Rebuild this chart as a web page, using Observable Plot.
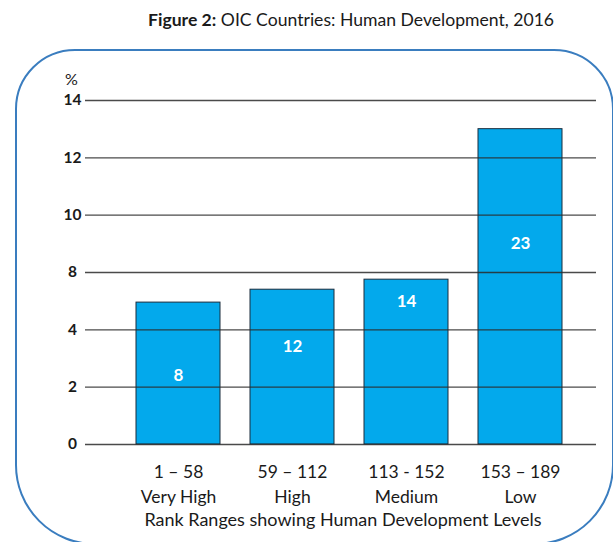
<!DOCTYPE html>
<html><head><meta charset="utf-8">
<script src="https://cdn.jsdelivr.net/npm/d3@7"></script>
<script src="https://cdn.jsdelivr.net/npm/@observablehq/plot@0.6"></script>
<style>
html,body{margin:0;padding:0;background:#fff;}
#wrap{position:relative;width:613px;height:542px;overflow:hidden;font-family:Lato,sans-serif;}
#title{position:absolute;top:9px;left:148px;white-space:nowrap;font-size:17.6px;color:#1a1a1a;}
#frame{position:absolute;left:15px;top:49px;width:599px;height:496px;border:2px solid #3a7dbf;border-radius:60px 60px 80px 80px;box-sizing:border-box;}
#chart{position:absolute;left:0;top:0;}
</style></head><body>
<div id="wrap"><div id="frame"></div><div id="title"><b>Figure 2:</b> OIC Countries: Human Development, 2016</div><div id="chart"></div></div>
<script>
const ranks = ["1 – 58", "59 – 112", "113 - 152", "153 – 189"];
const levels = ["Very High", "High", "Medium", "Low"];
const shares = [5.9, 6.8, 7.5, 13.0];
const counts = [8, 12, 14, 23];
const countLabelAt = [2.4, 3.4, 6.0, 9.0];
const yTicks = [0, 2, 4, 8, 10, 12, 14];

const data = levels.map((l, i) => ({level: l, rank: ranks[i], share: shares[i], count: counts[i], labelAt: countLabelAt[i]}));
const rankOf = Object.fromEntries(levels.map((l, i) => [l, ranks[i]]));
// the reference axis spaces its labelled ticks evenly (the "6" line is absent)
const tickIndex = d3.scaleLinear().domain(yTicks).range(yTicks.map((_, i) => i));

const yTop = 100, yBottom = 444;
const plot = Plot.plot({
  width: 613,
  height: 542,
  marginTop: yTop,
  marginBottom: 542 - yBottom,
  marginLeft: 85,
  marginRight: 17,
  style: {fontFamily: "Lato, sans-serif", background: "transparent", overflow: "visible"},
  x: {domain: levels, paddingInner: 0.26, paddingOuter: 0.352, align: 0.6},
  y: {type: "linear", transform: v => tickIndex(v), domain: [0, yTicks.length - 1], axis: null},
  marks: [
    Plot.barY(data, {x: "level", y: "share", fill: "#03A9EC", stroke: "#1b2c3c", strokeWidth: 1}),
    Plot.ruleY(yTicks, {stroke: "#2a2a2a", strokeWidth: 1.3, strokeOpacity: 0.85}),
    Plot.text(data, {x: "level", y: "labelAt", text: d => String(d.count), fill: "white", fontWeight: "bold", fontSize: 17}),
    Plot.text(yTicks, {y: d => d, text: d => String(d), frameAnchor: "left", dx: -13, textAnchor: "middle", fontWeight: "bold", fontSize: 15.5, fill: "#1a1a1a"}),
    Plot.text(["%"], {frameAnchor: "top-left", dx: -14, dy: -27, textAnchor: "middle", fontSize: 16, fill: "#1a1a1a"}),
    Plot.axisX({tickSize: 0, tickPadding: 15.5, fontSize: 17.5, fill: "#1a1a1a", lineHeight: 1.43,
      tickFormat: d => rankOf[d] + "\n" + d, label: null}),
    Plot.text(["Rank Ranges showing Human Development Levels"], {frameAnchor: "bottom", dx: 2, dy: 81, fontSize: 18, fill: "#1a1a1a"})
  ]
});
document.getElementById("chart").appendChild(plot);
</script>
</body></html>
